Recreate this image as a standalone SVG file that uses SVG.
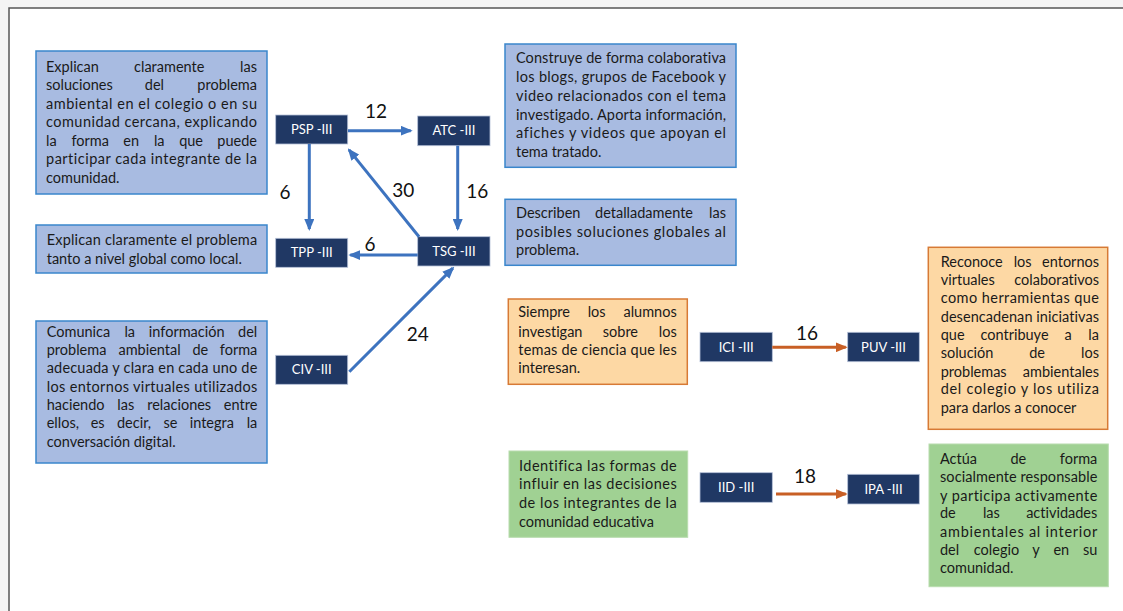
<svg xmlns="http://www.w3.org/2000/svg" width="1123" height="611" viewBox="0 0 1123 611">
<style>
text{font-variant-ligatures:none;font-feature-settings:"liga" 0,"clig" 0,"dlig" 0}
.d{font-family:Lato,"Liberation Sans",sans-serif;font-size:14.5px;fill:#1a1a1a}
.n{font-family:Lato,"Liberation Sans",sans-serif;font-size:13px;fill:#ffffff;text-anchor:middle}
.lbl{font-family:Lato,"Liberation Sans",sans-serif;font-size:19px;fill:#111111;text-anchor:middle}
.blue{fill:#a8bbe1;stroke:#3a86cc;stroke-width:1.5}
.orange{fill:#fdd8a4;stroke:#d77a35;stroke-width:1.5}
.green{fill:#a0d193;stroke:#b8dcae;stroke-width:1}
.node{fill:#203864;stroke:#b5c0d8;stroke-width:0.8}
.cb{stroke:#3d73bf;stroke-width:3;fill:none;marker-end:url(#ab)}
.co{stroke:#c85f25;stroke-width:3;fill:none;marker-end:url(#ao)}
</style>
<defs>
<marker id="ab" viewBox="0 0 12 10" markerWidth="12" markerHeight="10" refX="10" refY="5" orient="auto" markerUnits="userSpaceOnUse"><path d="M0,0 L12,5 L0,10 z" fill="#3d73bf"/></marker>
<marker id="ao" viewBox="0 0 12 10" markerWidth="12" markerHeight="10" refX="10" refY="5" orient="auto" markerUnits="userSpaceOnUse"><path d="M0,0 L12,5 L0,10 z" fill="#c85f25"/></marker>
</defs>
<rect x="0" y="0" width="1123" height="611" fill="#f4f4f4"/>
<rect x="9" y="8" width="1120" height="610" fill="#ffffff" stroke="#555555" stroke-width="1.5"/>

<g id="desc-psp">
<rect class="blue" x="36" y="51" width="231" height="143"/>
<text class="d" y="71.7"><tspan x="46">Explican</tspan><tspan x="169.2" text-anchor="middle">claramente</tspan><tspan x="257" text-anchor="end">las</tspan></text>
<text class="d" y="90"><tspan x="46">soluciones</tspan><tspan x="154.4" text-anchor="middle">del</tspan><tspan x="257" text-anchor="end">problema</tspan></text>
<text class="d" x="46" y="108.5" textLength="211" lengthAdjust="spacing">ambiental en el colegio o en su</text>
<text class="d" x="46" y="127" textLength="211" lengthAdjust="spacing">comunidad cercana, explicando</text>
<text class="d" y="145.7"><tspan x="46">la</tspan><tspan x="90.2" text-anchor="middle">forma</tspan><tspan x="131.2" text-anchor="middle">en</tspan><tspan x="159.2" text-anchor="middle">la</tspan><tspan x="191.1" text-anchor="middle">que</tspan><tspan x="257" text-anchor="end">puede</tspan></text>
<text class="d" x="46" y="164.3" textLength="211" lengthAdjust="spacing">participar cada integrante de la</text>
<text class="d" x="46" y="183">comunidad.</text>
</g>

<g id="desc-tpp">
<rect class="blue" x="36" y="225" width="231" height="48"/>
<text class="d" x="46.7" y="245" textLength="210.5" lengthAdjust="spacing">Explican claramente el problema</text>
<text class="d" x="46.7" y="263.5">tanto a nivel global como local.</text>
</g>

<g id="desc-civ">
<rect class="blue" x="36" y="321" width="231" height="142"/>
<text class="d" y="336.7"><tspan x="46.7">Comunica</tspan><tspan x="129.7" text-anchor="middle">la</tspan><tspan x="186.7" text-anchor="middle">información</tspan><tspan x="257.3" text-anchor="end">del</tspan></text>
<text class="d" y="355"><tspan x="46.7">problema</tspan><tspan x="149.6" text-anchor="middle">ambiental</tspan><tspan x="200.4" text-anchor="middle">de</tspan><tspan x="257.3" text-anchor="end">forma</tspan></text>
<text class="d" x="46.7" y="373.3" textLength="210.6" lengthAdjust="spacing">adecuada y clara en cada uno de</text>
<text class="d" x="46.7" y="391.7" textLength="210.6" lengthAdjust="spacing">los entornos virtuales utilizados</text>
<text class="d" y="410"><tspan x="46.7">haciendo</tspan><tspan x="125.8" text-anchor="middle">las</tspan><tspan x="179.2" text-anchor="middle">relaciones</tspan><tspan x="257.3" text-anchor="end">entre</tspan></text>
<text class="d" y="428.3"><tspan x="46.7">ellos,</tspan><tspan x="97.7" text-anchor="middle">es</tspan><tspan x="134.1" text-anchor="middle">decir,</tspan><tspan x="170.5" text-anchor="middle">se</tspan><tspan x="211.8" text-anchor="middle">integra</tspan><tspan x="257.3" text-anchor="end">la</tspan></text>
<text class="d" x="46.7" y="446.7">conversación digital.</text>
</g>

<g id="desc-atc">
<rect class="blue" x="505" y="44" width="231" height="123.3"/>
<text class="d" x="516" y="63.3" textLength="210" lengthAdjust="spacing">Construye de forma colaborativa</text>
<text class="d" x="516" y="82.3" textLength="210" lengthAdjust="spacing">los blogs, grupos de Facebook y</text>
<text class="d" x="516" y="101" textLength="210" lengthAdjust="spacing">video relacionados con el tema</text>
<text class="d" x="516" y="120" textLength="210" lengthAdjust="spacing">investigado. Aporta información,</text>
<text class="d" x="516" y="138.3" textLength="210" lengthAdjust="spacing">afiches y videos que apoyan el</text>
<text class="d" x="516" y="157.3">tema tratado.</text>
</g>

<g id="desc-tsg">
<rect class="blue" x="505" y="199.3" width="231" height="66"/>
<text class="d" y="217.7"><tspan x="516">Describen</tspan><tspan x="644" text-anchor="middle">detalladamente</tspan><tspan x="726" text-anchor="end">las</tspan></text>
<text class="d" x="516" y="236.7" textLength="210" lengthAdjust="spacing">posibles soluciones globales al</text>
<text class="d" x="516" y="255">problema.</text>
</g>

<g id="desc-ici">
<rect class="orange" x="508.3" y="299" width="179" height="85.3"/>
<text class="d" y="317.3"><tspan x="518.3">Siempre</tspan><tspan x="596.6" text-anchor="middle">los</tspan><tspan x="676.7" text-anchor="end">alumnos</tspan></text>
<text class="d" y="336.7"><tspan x="518.3">investigan</tspan><tspan x="620.4" text-anchor="middle">sobre</tspan><tspan x="676.7" text-anchor="end">los</tspan></text>
<text class="d" x="518.3" y="355" textLength="158.4" lengthAdjust="spacing">temas de ciencia que les</text>
<text class="d" x="518.3" y="373.3">interesan.</text>
</g>

<g id="desc-puv">
<rect class="orange" x="928.3" y="247.3" width="179.4" height="182"/>
<text class="d" y="267.3"><tspan x="940.7">Reconoce</tspan><tspan x="1022.6" text-anchor="middle">los</tspan><tspan x="1099" text-anchor="end">entornos</tspan></text>
<text class="d" y="285.3"><tspan x="940.7">virtuales</tspan><tspan x="1099" text-anchor="end">colaborativos</tspan></text>
<text class="d" x="940.7" y="303.3" textLength="158.3" lengthAdjust="spacing">como herramientas que</text>
<text class="d" x="940.7" y="321.7" textLength="158.3" lengthAdjust="spacing">desencadenan iniciativas</text>
<text class="d" y="340"><tspan x="940.7">que</tspan><tspan x="1014.5" text-anchor="middle">contribuye</tspan><tspan x="1068.1" text-anchor="middle">a</tspan><tspan x="1099" text-anchor="end">la</tspan></text>
<text class="d" y="358.3"><tspan x="940.7">solución</tspan><tspan x="1037.1" text-anchor="middle">de</tspan><tspan x="1099" text-anchor="end">los</tspan></text>
<text class="d" y="376.7"><tspan x="940.7">problemas</tspan><tspan x="1099" text-anchor="end">ambientales</tspan></text>
<text class="d" x="940.7" y="394.3" textLength="158.3" lengthAdjust="spacing">del colegio y los utiliza</text>
<text class="d" x="940.7" y="412.7">para darlos a conocer</text>
</g>

<g id="desc-iid">
<rect class="green" x="509" y="451" width="178.7" height="86.3"/>
<text class="d" x="519" y="470.7" textLength="157.7" lengthAdjust="spacing">Identifica las formas de</text>
<text class="d" x="519" y="489.3" textLength="157.7" lengthAdjust="spacing">influir en las decisiones</text>
<text class="d" x="519" y="507.7" textLength="157.7" lengthAdjust="spacing">de los integrantes de la</text>
<text class="d" x="519" y="526.7">comunidad educativa</text>
</g>

<g id="desc-ipa">
<rect class="green" x="929" y="444" width="179.3" height="142.7"/>
<text class="d" y="464"><tspan x="940">Actúa</tspan><tspan x="1018.3" text-anchor="middle">de</tspan><tspan x="1097.3" text-anchor="end">forma</tspan></text>
<text class="d" x="940" y="482.3" textLength="157.3" lengthAdjust="spacing">socialmente responsable</text>
<text class="d" x="940" y="500.7" textLength="157.3" lengthAdjust="spacing">y participa activamente</text>
<text class="d" y="518.3"><tspan x="940">de</tspan><tspan x="991.4" text-anchor="middle">las</tspan><tspan x="1097.3" text-anchor="end">actividades</tspan></text>
<text class="d" x="940" y="536.7" textLength="157.3" lengthAdjust="spacing">ambientales al interior</text>
<text class="d" y="555"><tspan x="940">del</tspan><tspan x="996.5" text-anchor="middle">colegio</tspan><tspan x="1036" text-anchor="middle">y</tspan><tspan x="1061.3" text-anchor="middle">en</tspan><tspan x="1097.3" text-anchor="end">su</tspan></text>
<text class="d" x="940" y="573.3">comunidad.</text>
</g>

<g id="node-psp"><rect class="node" x="275.7" y="115" width="72" height="29"/><text class="n" x="311.7" y="134">PSP -III</text></g>
<g id="node-atc"><rect class="node" x="417.7" y="116" width="72.3" height="29.7"/><text class="n" x="453.9" y="135.4">ATC -III</text></g>
<g id="node-tpp"><rect class="node" x="275.7" y="238.3" width="72" height="29"/><text class="n" x="311.7" y="257.3">TPP -III</text></g>
<g id="node-tsg"><rect class="node" x="417.7" y="236.7" width="72.3" height="29.3"/><text class="n" x="453.9" y="255.8">TSG -III</text></g>
<g id="node-civ"><rect class="node" x="275.7" y="355.3" width="72" height="29"/><text class="n" x="311.7" y="374.3">CIV -III</text></g>
<g id="node-ici"><rect class="node" x="700" y="332.3" width="72.3" height="29.4"/><text class="n" x="736.2" y="351.5">ICI -III</text></g>
<g id="node-puv"><rect class="node" x="847.7" y="332.3" width="71.6" height="29.4"/><text class="n" x="883.5" y="351.5">PUV -III</text></g>
<g id="node-iid"><rect class="node" x="700" y="472.7" width="72.3" height="29.6"/><text class="n" x="736.2" y="492">IID -III</text></g>
<g id="node-ipa"><rect class="node" x="847.7" y="474.3" width="71.6" height="29.7"/><text class="n" x="883.5" y="493.6">IPA -III</text></g>

<g id="connectors">
<path class="cb" d="M348,130.7 L410.7,130.7"/>
<path class="cb" d="M309.3,144 L309.3,229"/>
<path class="cb" d="M457.7,145.7 L457.7,229"/>
<path class="cb" d="M419,236.7 L349,149.9"/>
<path class="cb" d="M417.7,255 L350.3,255"/>
<path class="cb" d="M349.3,371.7 L452.9,268.1"/>
<path class="co" d="M772.3,347.3 L845.7,347.3"/>
<path class="co" d="M776,494 L845.7,494"/>
<text class="lbl" x="376" y="118.3">12</text>
<text class="lbl" x="285" y="199">6</text>
<text class="lbl" x="477.3" y="198.3">16</text>
<text class="lbl" x="403.3" y="196.7">30</text>
<text class="lbl" x="370" y="250.7">6</text>
<text class="lbl" x="417.7" y="340.7">24</text>
<text class="lbl" x="807" y="340">16</text>
<text class="lbl" x="805" y="483.3">18</text>
</g>
</svg>
